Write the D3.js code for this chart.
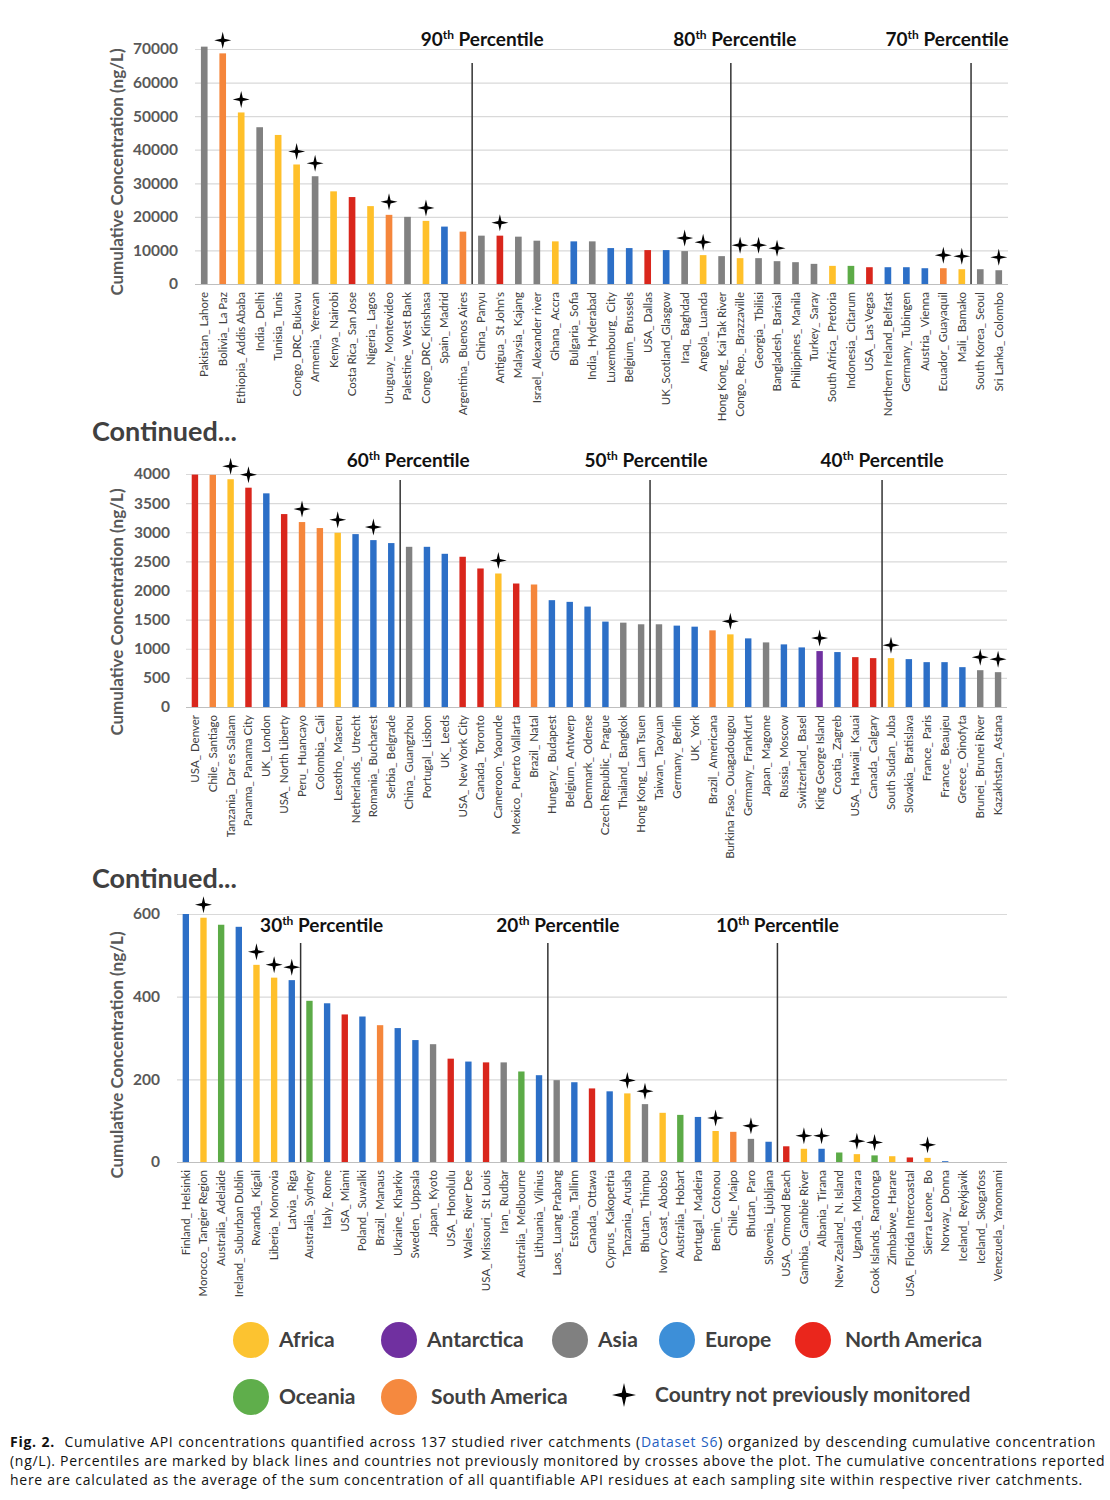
<!DOCTYPE html>
<html>
<head>
<meta charset="utf-8">
<script src="https://cdn.jsdelivr.net/npm/d3@7"></script>
<style>
  body { margin: 0; background: #fff; }
  #caption { position: absolute; left: 10px; top: 1432px; width: 1086px;
             font-family: "Open Sans", sans-serif; font-size: 14px; letter-spacing: 0.73px;
             line-height: 19px; color: #111; }
  #caption div { text-align: justify; text-align-last: justify; white-space: nowrap; }
  #caption div.last { text-align-last: left; }
  #caption a { color: #1f5fbf; text-decoration: none; }
</style>
</head>
<body>
<svg id="chart"></svg>
<div id="caption">
  <div><b>Fig. 2.</b>&nbsp; Cumulative API concentrations quantified across 137 studied river catchments (<a>Dataset S6</a>) organized by descending cumulative concentration</div>
  <div>(ng/L). Percentiles are marked by black lines and countries not previously monitored by crosses above the plot. The cumulative concentrations reported</div>
  <div class="last">here are calculated as the average of the sum concentration of all quantifiable API residues at each sampling site within respective river catchments.</div>
</div>
<script>
// ---- data: panel 1 (highest concentrations) ----
const sites1 = ["Pakistan_ Lahore", "Bolivia_ La Paz", "Ethiopia_ Addis Ababa", "India_ Delhi", "Tunisia_ Tunis",
  "Congo_DRC_Bukavu", "Armenia_ Yerevan", "Kenya_ Nairobi", "Costa Rica_ San Jose", "Nigeria_ Lagos",
  "Uruguay_ Montevideo", "Palestine_ West Bank", "Congo_DRC_Kinshasa", "Spain_ Madrid", "Argentina_ Buenos Aires",
  "China_ Panyu", "Antigua_ St John's", "Malaysia_ Kajang", "Israel_ Alexander river", "Ghana_ Accra",
  "Bulgaria_ Sofia", "India_ Hyderabad", "Luxembourg_ City", "Belgium_ Brussels", "USA_ Dallas",
  "UK_Scotland_Glasgow", "Iraq_ Baghdad", "Angola_ Luanda", "Hong Kong_ Kai Tak River", "Congo_ Rep._ Brazzaville",
  "Georgia_ Tbilisi", "Bangladesh_ Barisal", "Philippines_ Manila", "Turkey_ Saray", "South Africa_ Pretoria",
  "Indonesia_ Citarum", "USA_ Las Vegas", "Northern Ireland_Belfast", "Germany_ Tubingen", "Austria_ Vienna",
  "Ecuador_ Guayaquil", "Mali_ Bamako", "South Korea_ Seoul", "Sri Lanka_ Colombo"];
const conc1 = [70700, 68700, 51100, 46700, 44400, 35600, 32100, 27600, 25900, 23200,
  20600, 20000, 18800, 17100, 15600, 14400, 14400, 14100, 12900, 12700,
  12700, 12700, 10700, 10700, 10100, 10100, 9800, 8600, 8300, 7700,
  7700, 6800, 6500, 6000, 5400, 5400, 5000, 5000, 5000, 4700,
  4700, 4400, 4400, 4100];
const region1 = ["AS", "SA", "AF", "AS", "AF", "AF", "AS", "AF", "NA", "AF",
  "SA", "AS", "AF", "EU", "SA", "AS", "NA", "AS", "AS", "AF",
  "EU", "AS", "EU", "EU", "NA", "EU", "AS", "AF", "AS", "AF",
  "AS", "AS", "AS", "AS", "AF", "OC", "NA", "EU", "EU", "EU",
  "SA", "AF", "AS", "AS"];
const newSite1 = [2, 3, 6, 7, 11, 13, 17, 27, 28, 30, 31, 32, 41, 42, 44];
const pct1 = [{ n: "90", after: 15 }, { n: "80", after: 29 }, { n: "70", after: 42 }];

// ---- data: panel 2 ----
const sites2 = ["USA_ Denver", "Chile_ Santiago", "Tanzania_ Dar es Salaam", "Panama_ Panama City", "UK_ London",
  "USA_ North Liberty", "Peru_ Huancayo", "Colombia_ Cali", "Lesotho_ Maseru", "Netherlands_ Utrecht",
  "Romania_ Bucharest", "Serbia_ Belgrade", "China_ Guangzhou", "Portugal_ Lisbon", "UK_ Leeds",
  "USA_ New York City", "Canada_ Toronto", "Cameroon_ Yaounde", "Mexico_ Puerto Vallarta", "Brazil_ Natal",
  "Hungary_ Budapest", "Belgium_ Antwerp", "Denmark_ Odense", "Czech Republic_ Prague", "Thailand_ Bangkok",
  "Hong Kong_ Lam Tsuen", "Taiwan_ Taoyuan", "Germany_ Berlin", "UK_ York", "Brazil_ Americana",
  "Burkina Faso_ Ouagadougou", "Germany_ Frankfurt", "Japan_ Magome", "Russia_ Moscow", "Switzerland_ Basel",
  "King George Island", "Croatia_ Zagreb", "USA_ Hawaii_ Kauai", "Canada_ Calgary", "South Sudan_ Juba",
  "Slovakia_ Bratislava", "France_ Paris", "France_ Beaujeu", "Greece_ Oinofyta", "Brunei_ Brunei River",
  "Kazakhstan_ Astana"];
const conc2 = [3990, 3985, 3910, 3765, 3668, 3312, 3175, 3072, 2991, 2968,
  2865, 2814, 2750, 2750, 2630, 2579, 2378, 2292, 2120, 2103,
  1834, 1805, 1724, 1466, 1448, 1420, 1420, 1397, 1379, 1316,
  1247, 1178, 1109, 1075, 1023, 960, 943, 856, 839, 839,
  822, 770, 770, 684, 632, 598];
const region2 = ["NA", "SA", "AF", "NA", "EU", "NA", "SA", "SA", "AF", "EU",
  "EU", "EU", "AS", "EU", "EU", "NA", "NA", "AF", "NA", "SA",
  "EU", "EU", "EU", "EU", "AS", "AS", "AS", "EU", "EU", "SA",
  "AF", "EU", "AS", "EU", "EU", "AN", "EU", "NA", "NA", "AF",
  "EU", "EU", "EU", "EU", "AS", "AS"];
const newSite2 = [3, 4, 7, 9, 11, 18, 31, 36, 40, 45, 46];
const pct2 = [{ n: "60", after: 12 }, { n: "50", after: 26 }, { n: "40", after: 39 }];

// ---- data: panel 3 ----
const sites3 = ["Finland_ Helsinki", "Morocco_ Tangier Region", "Australia_ Adelaide", "Ireland_ Suburban Dublin", "Rwanda_ Kigali",
  "Liberia_ Monrovia", "Latvia_ Riga", "Australia_ Sydney", "Italy_ Rome", "USA_ Miami",
  "Poland_ Suwalki", "Brazil_ Manaus", "Ukraine_ Kharkiv", "Sweden_ Uppsala", "Japan_ Kyoto",
  "USA_ Honolulu", "Wales_ River Dee", "USA_ Missouri_ St Louis", "Iran_ Rudbar", "Australia_ Melbourne",
  "Lithuania_ Vilnius", "Laos_ Luang Prabang", "Estonia_ Tallinn", "Canada_ Ottawa", "Cyprus_ Kakopetria",
  "Tanzania_ Arusha", "Bhutan_ Thimpu", "Ivory Coast_ Abobso", "Australia_ Hobart", "Portugal_ Madeira",
  "Benin_ Cotonou", "Chile_ Maipo", "Bhutan_ Paro", "Slovenia_ Ljubljana", "USA_ Ormond Beach",
  "Gambia_ Gambie River", "Albania_ Tirana", "New Zealand_ N. Island", "Uganda_ Mbarara", "Cook Islands_ Rarotonga",
  "Zimbabwe_ Harare", "USA_ Florida Intercoastal", "Sierra Leone_ Bo", "Norway_ Donna", "Iceland_ Reykjavik",
  "Iceland_ Skogafoss", "Venezuela_ Yanomami"];
const conc3 = [600, 591, 574, 569, 477, 446, 440, 390, 384, 357,
  352, 331, 324, 295, 285, 250, 243, 241, 241, 219,
  210, 198, 193, 178, 171, 166, 140, 119, 114, 109,
  75, 73, 56, 49, 38, 32, 32, 23, 19, 16,
  14, 11, 10, 2, 0, 0, 0];
const region3 = ["EU", "AF", "OC", "EU", "AF", "AF", "EU", "OC", "EU", "NA",
  "EU", "SA", "EU", "EU", "AS", "NA", "EU", "NA", "AS", "OC",
  "EU", "AS", "EU", "NA", "EU", "AF", "AS", "AF", "OC", "EU",
  "AF", "SA", "AS", "EU", "NA", "AF", "EU", "OC", "AF", "OC",
  "AF", "NA", "AF", "EU", "EU", "EU", "SA"];
const newSite3 = [2, 5, 6, 7, 26, 27, 31, 33, 36, 37, 39, 40, 43];
const pct3 = [{ n: "30", after: 7 }, { n: "20", after: 21 }, { n: "10", after: 34 }];

// ---- legend ----
const regionCodes = ["AF", "AN", "AS", "EU", "NA", "OC", "SA"];
const regionNames = ["Africa", "Antarctica", "Asia", "Europe", "North America", "Oceania", "South America"];
const regionColors = ["#ffc02a", "#7030a0", "#818181", "#2c6fc7", "#d9261c", "#5cab47", "#f5863b"];
const legendColors = ["#fcc330", "#7030a0", "#808080", "#3d8fd8", "#ea261c", "#5fae4b", "#f5893f"];

const color = d3.scaleOrdinal().domain(regionCodes).range(regionColors);

const W = 1110, H = 1430;
const svg = d3.select("#chart").attr("width", W).attr("height", H)
  .style("font-family", "Lato, 'Open Sans', sans-serif");

// four-pointed cross used to flag new sites
function starPath(r, w) {
  return `M0,${-r}L${w},${-w}L${r},0L${w},${w}L0,${r}L${-w},${w}L${-r},0L${-w},${-w}Z`;
}

function drawPanel(cfg, sites, conc, region, newSites, pcts) {
  const g = svg.append("g");
  const x = d3.scaleBand().domain(sites).range([cfg.left, cfg.right])
    .paddingInner(0.64).paddingOuter(0.32);
  const y = d3.scaleLinear().domain([0, cfg.max]).range([cfg.bottom, cfg.top]);

  // y axis + gridlines
  const ax = g.append("g").attr("transform", `translate(${cfg.left},0)`)
    .call(d3.axisLeft(y).tickValues(d3.range(0, cfg.max + 1, cfg.step))
      .tickSize(-(cfg.right - cfg.left)).tickPadding(cfg.pad).tickFormat(d3.format("d")));
  ax.select(".domain").remove();
  ax.selectAll(".tick line").attr("stroke", d => d === 0 ? "#bfbfbf" : "#d9d9d9").attr("stroke-width", 1.2);
  ax.selectAll(".tick text").attr("fill", "#595959").attr("font-size", 15.5).attr("font-weight", 700)
    .attr("font-family", "Lato, sans-serif");

  g.append("text")
    .attr("transform", `translate(${cfg.titleX},${cfg.titleY}) rotate(-90)`)
    .attr("text-anchor", "middle").attr("font-size", 17).attr("font-weight", 700).attr("fill", "#595959")
    .text("Cumulative Concentration (ng/L)");

  // bars
  g.selectAll("rect.bar").data(sites).join("rect").attr("class", "bar")
    .attr("x", d => x(d)).attr("width", x.bandwidth())
    .attr("y", (d, i) => y(conc[i])).attr("height", (d, i) => y(0) - y(conc[i]))
    .attr("fill", (d, i) => color(region[i]));

  // x labels
  g.selectAll("text.site").data(sites).join("text").attr("class", "site")
    .attr("transform", d => `translate(${x(d) + x.bandwidth() / 2 + 4},${cfg.bottom + 8}) rotate(-90)`)
    .attr("text-anchor", "end").attr("font-size", 11.5).attr("fill", "#404040")
    .text(d => d);

  // crosses
  g.selectAll("path.star").data(newSites).join("path").attr("class", "star")
    .attr("d", starPath(8.5, 1.6))
    .attr("transform", d => `translate(${x(sites[d - 1]) + x.bandwidth() / 2},${y(conc[d - 1]) - 13})`)
    .attr("fill", "#000");

  // percentile lines
  pcts.forEach((p, k) => {
    const lx = cfg.left + p.after * x.step();
    g.append("line").attr("x1", lx).attr("x2", lx).attr("y1", cfg.lineTop).attr("y2", cfg.bottom)
      .attr("stroke", "#333").attr("stroke-width", 1.5);
    const t = g.append("text").attr("x", lx + cfg.labelDx[k]).attr("y", cfg.labelY)
      .attr("text-anchor", "middle").attr("font-size", 19).attr("font-weight", 700).attr("fill", "#111");
    t.append("tspan").text(p.n);
    t.append("tspan").attr("dy", -7).attr("font-size", 12).text("th");
    t.append("tspan").attr("dy", 7).text(" Percentile");
  });
}

drawPanel({ left: 195, right: 1008, top: 49, bottom: 284, max: 70000, step: 10000, pad: 17,
  titleX: 123, titleY: 172, lineTop: 63, labelY: 46, labelDx: [10, 4, -24] },
  sites1, conc1, region1, newSite1, pct1);

drawPanel({ left: 186, right: 1007, top: 474, bottom: 707, max: 4000, step: 500, pad: 16,
  titleX: 123, titleY: 612, lineTop: 480, labelY: 467, labelDx: [8, -4, 0] },
  sites2, conc2, region2, newSite2, pct2);

drawPanel({ left: 177, right: 1007, top: 914, bottom: 1162, max: 600, step: 200, pad: 17,
  titleX: 123, titleY: 1055, lineTop: 943, labelY: 932, labelDx: [21, 10, 0] },
  sites3, conc3, region3, newSite3, pct3);

// "Continued..." headers
[441, 888].forEach(yy => {
  svg.append("text").attr("x", 92).attr("y", yy).attr("font-size", 27).attr("font-weight", 700)
    .attr("fill", "#404040").text("Continued...");
});

// legend
const legendPos = [[251, 1340], [399, 1340], [570, 1340], [677, 1340], [813, 1340], [251, 1397], [399, 1397]];
const leg = svg.append("g").attr("font-size", 21).attr("font-weight", 700).attr("fill", "#404040");
regionNames.forEach((name, i) => {
  const [cx, cy] = legendPos[i];
  leg.append("circle").attr("cx", cx).attr("cy", cy).attr("r", 18).attr("fill", legendColors[i]);
  leg.append("text").attr("x", cx + 28 + (i === 4 || i === 6 ? 4 : 0)).attr("y", cy + 7).text(name);
});
leg.append("path").attr("d", starPath(12, 2.2)).attr("transform", "translate(624,1395)").attr("fill", "#000");
leg.append("text").attr("x", 655).attr("y", 1402).text("Country not previously monitored");
</script>
</body>
</html>
